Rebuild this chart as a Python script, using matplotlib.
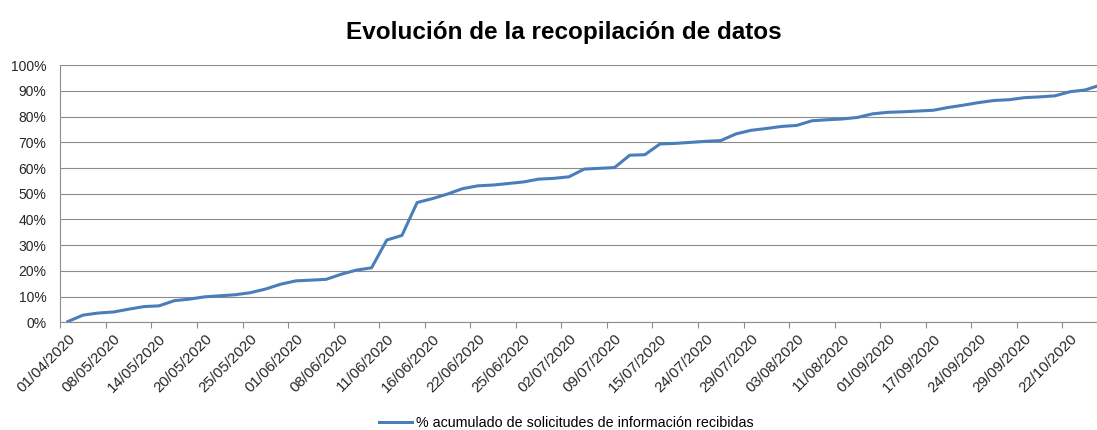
import matplotlib
matplotlib.use('Agg')
import matplotlib.pyplot as plt
from matplotlib.ticker import FixedLocator, FuncFormatter


# cumulative % of information requests received (one value per category)
pct_received = [0.3, 2.8, 3.6, 4.0, 5.1, 6.1, 6.4, 8.4, 9.0, 9.9,
                10.3, 10.7, 11.5, 12.9, 14.8, 16.1, 16.4, 16.7, 18.7, 20.3,
                21.2, 32.0, 33.8, 46.6, 48.1, 49.9, 52.0, 53.1, 53.4, 54.0,
                54.6, 55.7, 56.0, 56.6, 59.6, 59.9, 60.2, 65.0, 65.2, 69.4,
                69.6, 70.0, 70.4, 70.7, 73.3, 74.7, 75.4, 76.2, 76.6, 78.4,
                78.8, 79.1, 79.7, 81.1, 81.7, 81.9, 82.2, 82.5, 83.6, 84.5,
                85.5, 86.3, 86.6, 87.4, 87.7, 88.1, 89.7, 90.4, 92.3]

# only every third category carries a date label
date_labels = ['01/04/2020', '08/05/2020', '14/05/2020', '20/05/2020', '25/05/2020',
               '01/06/2020', '08/06/2020', '11/06/2020', '16/06/2020', '22/06/2020',
               '25/06/2020', '02/07/2020', '09/07/2020', '15/07/2020', '24/07/2020',
               '29/07/2020', '03/08/2020', '11/08/2020', '01/09/2020', '17/09/2020',
               '24/09/2020', '29/09/2020', '22/10/2020']
label_step = 3

y_ticks = [0, 10, 20, 30, 40, 50, 60, 70, 80, 90, 100]

series_name = '% acumulado de solicitudes de información recibidas'


plt.rcParams['font.family'] = ['Liberation Sans', 'DejaVu Sans']

fig = plt.figure(figsize=(10.97, 4.30), dpi=100)
# plot area runs a little past the right edge, like the cropped original
ax = fig.add_axes([0.055, 0.2505, 0.955, 0.5977])

n = len(pct_received)
ax.plot(range(n), pct_received, color='#4A7EBB', linewidth=2.2,
        solid_joinstyle='round', label=series_name)

ax.set_xlim(-0.5, n - 0.5)
ax.set_ylim(0, 100)

# y axis: percent labels, gridlines, no tick marks
ax.set_yticks(y_ticks)
ax.yaxis.set_major_formatter(FuncFormatter(lambda v, p: '%d%%' % v))
ax.tick_params(axis='y', length=0, pad=10, labelsize=10, labelcolor='#262626')
ax.yaxis.grid(True, color='#8c8c8c', linewidth=0.8)
ax.set_axisbelow(True)

# x axis: labels on the category, tick marks between categories
label_pos = list(range(0, n, label_step))[:len(date_labels)]
ax.set_xticks(label_pos)
ax.set_xticklabels(date_labels, rotation=45, ha='right', va='top',
                   rotation_mode='anchor')
ax.tick_params(axis='x', which='major', length=0, pad=7, labelsize=10.8,
               labelcolor='#262626')
ax.xaxis.set_minor_locator(FixedLocator([p - 0.5 for p in label_pos]))
ax.tick_params(axis='x', which='minor', length=4, width=0.8, color='#8c8c8c')

for side in ['top', 'right']:
    ax.spines[side].set_visible(False)
for side in ['left', 'bottom']:
    ax.spines[side].set_color('#8c8c8c')
    ax.spines[side].set_linewidth(0.8)

# title
fig.text(0.514, 0.91, 'Evolución de la recopilación de datos', ha='center',
         va='baseline', fontsize=17.5, fontweight='bold', color='black')

# legend at the bottom
fig.legend(loc='center', bbox_to_anchor=(0.516, 0.016), frameon=False,
           fontsize=10.3, handlelength=2.3, handletextpad=0.3)

plt.savefig('out.png', dpi=100)
